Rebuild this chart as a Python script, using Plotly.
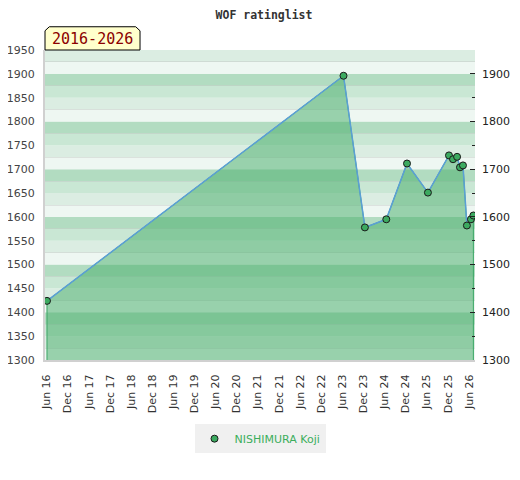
import plotly.graph_objects as go

dates = [
    "2016-06-03", "2023-06-11", "2023-12-13", "2024-06-15", "2024-12-11",
    "2025-06-10", "2025-12-09", "2026-01-13", "2026-02-17", "2026-03-14",
    "2026-04-09", "2026-05-13", "2026-06-17", "2026-07-08",
]
ratings = [1424, 1896, 1578, 1595, 1712, 1651, 1729, 1721, 1726, 1704, 1708, 1582, 1595, 1603]
player = "NISHIMURA Koji"
period_label = "2016-2026"

y_min, y_max = 1300, 1950

# background band colours, keyed by (lower bound mod 100)
band_colors = {0: "#eef7f2", 25: "#dbede2", 50: "#c9e7d4", 75: "#b2dcc1"}

fig = go.Figure()

shapes = []
for lo in range(y_min, y_max, 25):
    shapes.append(dict(
        type="rect", xref="paper", yref="y", x0=0, x1=1, y0=lo, y1=lo + 25,
        fillcolor=band_colors[lo % 100], line_width=0, layer="below",
    ))

# yellow label box with cut corners
shapes.append(dict(
    type="path", xref="paper", yref="paper", layer="above",
    path="M 0,1 L 0,1.062 L 0.01,1.075 L 0.211,1.075 L 0.221,1.062 L 0.221,1 Z",
    fillcolor="#ffffcc", line=dict(color="black", width=1),
))

# filled area down to the axis bottom
fig.add_trace(go.Scatter(
    x=[dates[0]] + dates + [dates[-1]],
    y=[y_min] + ratings + [y_min],
    mode="lines", fill="toself",
    fillcolor="rgba(72,174,108,0.52)",
    line=dict(color="#3aa564", width=1),
    showlegend=False, hoverinfo="skip",
))

fig.add_trace(go.Scatter(
    x=dates, y=ratings, mode="lines",
    line=dict(color="#5b9fd6", width=1.5),
    showlegend=False,
))

fig.add_trace(go.Scatter(
    x=dates, y=ratings, mode="markers", name=player, yaxis="y2",
    marker=dict(size=7, color="#3caa60", line=dict(color="#1a1a1a", width=1)),
))

fig.add_annotation(
    text=period_label, xref="paper", yref="paper", x=0.1105, y=1.037,
    xanchor="center", yanchor="middle",
    showarrow=False, font=dict(family="DejaVu Sans Mono", size=15, color="#8b0000"),
)

# page body adds an 8px offset, so the figure is 8px smaller
fig.update_layout(
    width=512, height=472,
    margin=dict(l=37, r=45, t=42, b=120, autoexpand=False),
    paper_bgcolor="white", plot_bgcolor="white",
    title=dict(text="<b>WOF ratinglist</b>", x=0.5, xanchor="center", y=0.994,
               yanchor="top", automargin=False,
               font=dict(family="DejaVu Sans Mono", size=11.5, color="#333")),
    shapes=shapes,
    showlegend=True,
    legend=dict(orientation="h", x=0.5, xanchor="center", y=-0.207, yanchor="top",
                itemwidth=30, bgcolor="#f0f0f0",
                font=dict(family="DejaVu Sans", size=11, color="#3cae5c")),
    xaxis=dict(
        type="date", range=["2016-05-17", "2026-07-22"], automargin=False,
        tick0="2016-06-01", dtick="M6", tickformat="%b %y", tickangle=-90,
        showgrid=False, zeroline=False,
        showline=True, linecolor="#d0d0d0", linewidth=2,
        ticks="outside", ticklen=8, tickcolor="rgba(0,0,0,0)",
        tickfont=dict(family="DejaVu Sans", size=11, color="#333"),
    ),
    yaxis=dict(
        range=[y_min, y_max], dtick=50, showgrid=False, zeroline=False, automargin=False,
        minor=dict(dtick=25, showgrid=True, gridcolor="rgba(180,180,180,0.3)", gridwidth=1),
        showline=True, linecolor="#d0d0d0", linewidth=2,
        ticks="outside", ticklen=6, tickcolor="rgba(0,0,0,0)",
        tickfont=dict(family="DejaVu Sans", size=11, color="#444"),
    ),
    yaxis2=dict(
        overlaying="y", side="right", matches="y", range=[y_min, y_max], automargin=False,
        dtick=100, tick0=1300, showgrid=False, zeroline=False,
        ticks="inside", ticklen=5, tickcolor="#222", ticklabelstandoff=6,
        minor=dict(dtick=50, ticks="inside", ticklen=3, tickcolor="#222"),
        tickfont=dict(family="DejaVu Sans", size=11, color="#222"),
    ),
)

fig.write_html("out.html")
